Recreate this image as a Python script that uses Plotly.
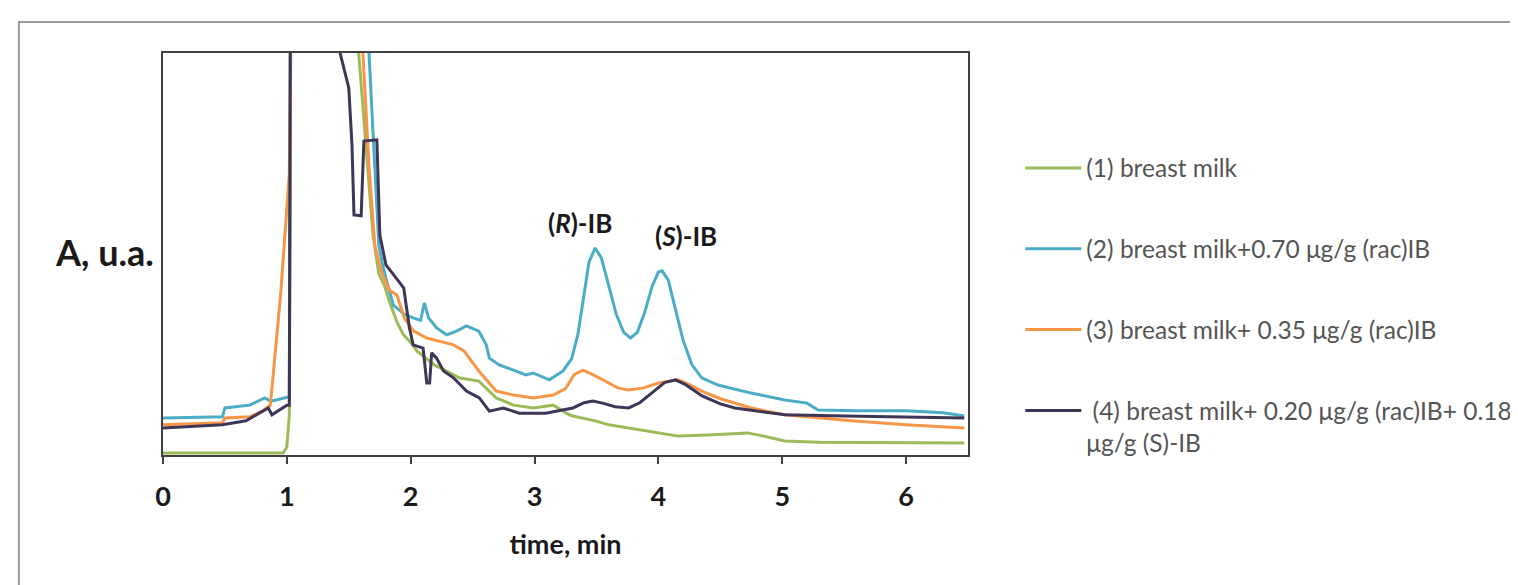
import plotly.graph_objects as go

# ---- data (time, min ; absorbance, arbitrary units; >100 = off scale) ----
t_milk = [0, 0.97, 1.0, 1.02, 1.035, 1.55, 1.58, 1.647, 1.695, 1.743, 1.79, 1.83, 1.89, 1.94, 2.0, 2.05,
          2.19, 2.29, 2.39, 2.55, 2.69, 2.83, 2.99, 3.15, 3.28, 3.31, 3.49, 3.6, 4.0, 4.16, 4.4, 4.72,
          4.85, 5.02, 5.3, 6.0, 6.47]
a_milk = [0.5, 0.5, 2, 10, 130, 130, 100, 75, 55, 45, 42, 38, 33, 30, 28, 25.9,
          22.4, 20.9, 19.2, 18.4, 14.2, 12.4, 11.7, 12.4, 10.0, 9.7, 8.5, 7.5, 5.5, 4.7, 5.0, 5.5,
          4.7, 3.5, 3.2, 3.0, 3.0]

t_070 = [0, 0.36, 0.48, 0.50, 0.7, 0.82, 0.87, 0.98, 1.02, 1.03, 1.64, 1.663, 1.711, 1.743, 1.77, 1.80,
         1.86, 1.95, 2.02, 2.08, 2.11, 2.145, 2.21, 2.29, 2.37, 2.45, 2.55, 2.61, 2.635, 2.715, 2.83,
         2.93, 2.99, 3.12, 3.23, 3.30, 3.35, 3.40, 3.44, 3.49, 3.54, 3.60, 3.66, 3.72, 3.775, 3.83,
         3.89, 3.95, 4.0, 4.03, 4.08, 4.14, 4.20, 4.27, 4.35, 4.48, 4.75, 5.02, 5.2, 5.29, 5.6, 6.0,
         6.3, 6.47]
a_070 = [9.2, 9.3, 9.5, 11.7, 12.4, 14.2, 13.4, 14.2, 14.5, 130, 130, 100, 70, 52, 47.8, 44,
         37.3, 35, 34.1, 33.5, 37.8, 34.1, 31.6, 29.9, 30.8, 32.1, 30.8, 27.4, 24.1, 22.4, 21.1,
         19.9, 20.4, 18.7, 20.9, 24, 30, 40, 48, 51.5, 49, 42, 35, 30.5, 29.1, 30.5,
         35.5, 42, 45.5, 45.8, 43.5, 36, 28.5, 22.5, 19.2, 17.4, 15.4, 13.7, 12.9, 11.2, 11.0, 11.0,
         10.5, 9.7]

t_035 = [0, 0.48, 0.5, 0.7, 0.8, 0.867, 0.95, 1.0, 1.02, 1.04, 1.60, 1.614, 1.663, 1.711, 1.77, 1.83,
         1.888, 1.95, 2.024, 2.13, 2.345, 2.43, 2.55, 2.69, 2.83, 2.99, 3.15, 3.25, 3.32, 3.39, 3.47,
         3.57, 3.67, 3.76, 3.88, 4.0, 4.16, 4.25, 4.35, 4.5, 4.75, 5.02, 5.56, 6.0, 6.47]
a_035 = [7.5, 8.0, 9.2, 9.5, 10.9, 12.4, 40, 62, 70, 130, 130, 100, 72, 52, 45, 41,
         39.8, 34, 30.8, 29.1, 27.4, 25.9, 20.9, 15.9, 14.9, 14.2, 14.9, 16.5, 20, 21.1, 20,
         18.4, 16.7, 16.2, 16.7, 17.9, 18.7, 17.5, 15.9, 14, 11.7, 10.0, 8.5, 7.5, 6.7]

t_mix = [0, 0.48, 0.67, 0.8, 0.85, 0.88, 1.0, 1.02, 1.03, 1.40, 1.43, 1.50, 1.526, 1.542, 1.60, 1.622,
         1.727, 1.751, 1.80, 1.863, 1.944, 1.99, 2.02, 2.10, 2.13, 2.153, 2.169, 2.209, 2.265, 2.345,
         2.45, 2.554, 2.635, 2.747, 2.876, 3.09, 3.31, 3.40, 3.47, 3.55, 3.65, 3.76, 3.85, 3.95, 4.05,
         4.137, 4.22, 4.353, 4.5, 4.618, 5.02, 5.5, 6.47]
a_mix = [6.7, 7.5, 8.5, 10.9, 11.7, 10.0, 12.4, 12.4, 130, 130, 100, 91.3, 77.1, 59.7, 59.5, 78.1,
         78.4, 54.7, 47.3, 44.8, 41.5, 31.6, 27.4, 26.6, 17.9, 17.9, 25.4, 24.1, 20.9, 19.2,
         15.9, 14.2, 10.9, 11.7, 10.4, 10.4, 11.7, 13.0, 13.4, 12.9, 12.0, 11.7, 13.0, 15.5, 18.0,
         18.7, 17.5, 14.7, 12.7, 11.7, 10.0, 9.7, 9.2]

names = ["(1) breast milk",
         "(2) breast milk+0.70 μg/g (rac)IB",
         "(3) breast milk+ 0.35 μg/g (rac)IB",
         " (4) breast milk+ 0.20 μg/g (rac)IB+ 0.18<br>μg/g (S)-IB"]
colors = ["#9BBB59", "#4BACC6", "#F79646", "#3F3557"]
series = [(t_milk, a_milk), (t_070, a_070), (t_035, a_035), (t_mix, a_mix)]

peak_labels = ["(<i>R</i>)-IB", "(<i>S</i>)-IB"]
peak_pos = [(3.37, 57.7), (4.22, 54.5)]

FONT = "Lato"
INK = "#1a1a1a"

fig = go.Figure()
for i, ((tx, ay), nm, c) in enumerate(zip(series, names, colors)):
    fig.add_trace(go.Scatter(x=tx, y=ay, mode="lines", name=nm, legendgroup=str(i),
                             line=dict(color=c, width=3)))

for lab, (px, py) in zip(peak_labels, peak_pos):
    fig.add_annotation(x=px, y=py, text="<b>" + lab + "</b>", showarrow=False,
                       font=dict(family=FONT, size=26, color=INK))

fig.add_annotation(xref="paper", yref="paper", x=-0.009, y=0.505, xanchor="right",
                   text="<b>A, u.a.</b>", showarrow=False,
                   font=dict(family=FONT, size=36, color=INK))

# outer frame of the original figure
fig.add_shape(type="rect", xref="paper", yref="paper", x0=-0.179, x1=1.8, y0=-0.4, y1=1.077,
              line=dict(color="#9a9a9a", width=2), layer="below")

fig.update_layout(
    width=1518, height=585,
    margin=dict(l=155, r=558, t=45, b=138, autoexpand=False),
    paper_bgcolor="white", plot_bgcolor="white",
    font=dict(family=FONT, color=INK),
    showlegend=True,
    legend=dict(x=1.065, y=0.77, xanchor="left", yanchor="top", traceorder="grouped",
                tracegroupgap=46, valign="top", itemwidth=56,
                font=dict(family=FONT, size=24.5, color="#555555"), bgcolor="rgba(0,0,0,0)"),
    xaxis=dict(range=[0, 6.5], dtick=1, tick0=0, ticks="outside", ticklen=7, tickwidth=2,
               tickcolor="#404040", showline=True, linecolor="#404040", linewidth=2, mirror=True,
               showgrid=False, zeroline=False, ticklabelstandoff=10, automargin=False,
               tickfont=dict(family=FONT, size=27, color=INK),
               tickprefix="<b>", ticksuffix="</b>",
               title=dict(text="<b>time, min</b>", font=dict(family=FONT, size=27, color=INK),
                          standoff=24)),
    yaxis=dict(range=[0, 100], showticklabels=False, ticks="", showline=True, linecolor="#404040",
               linewidth=2, mirror=True, showgrid=False, zeroline=False, automargin=False),
)

fig.write_html("out.html")
